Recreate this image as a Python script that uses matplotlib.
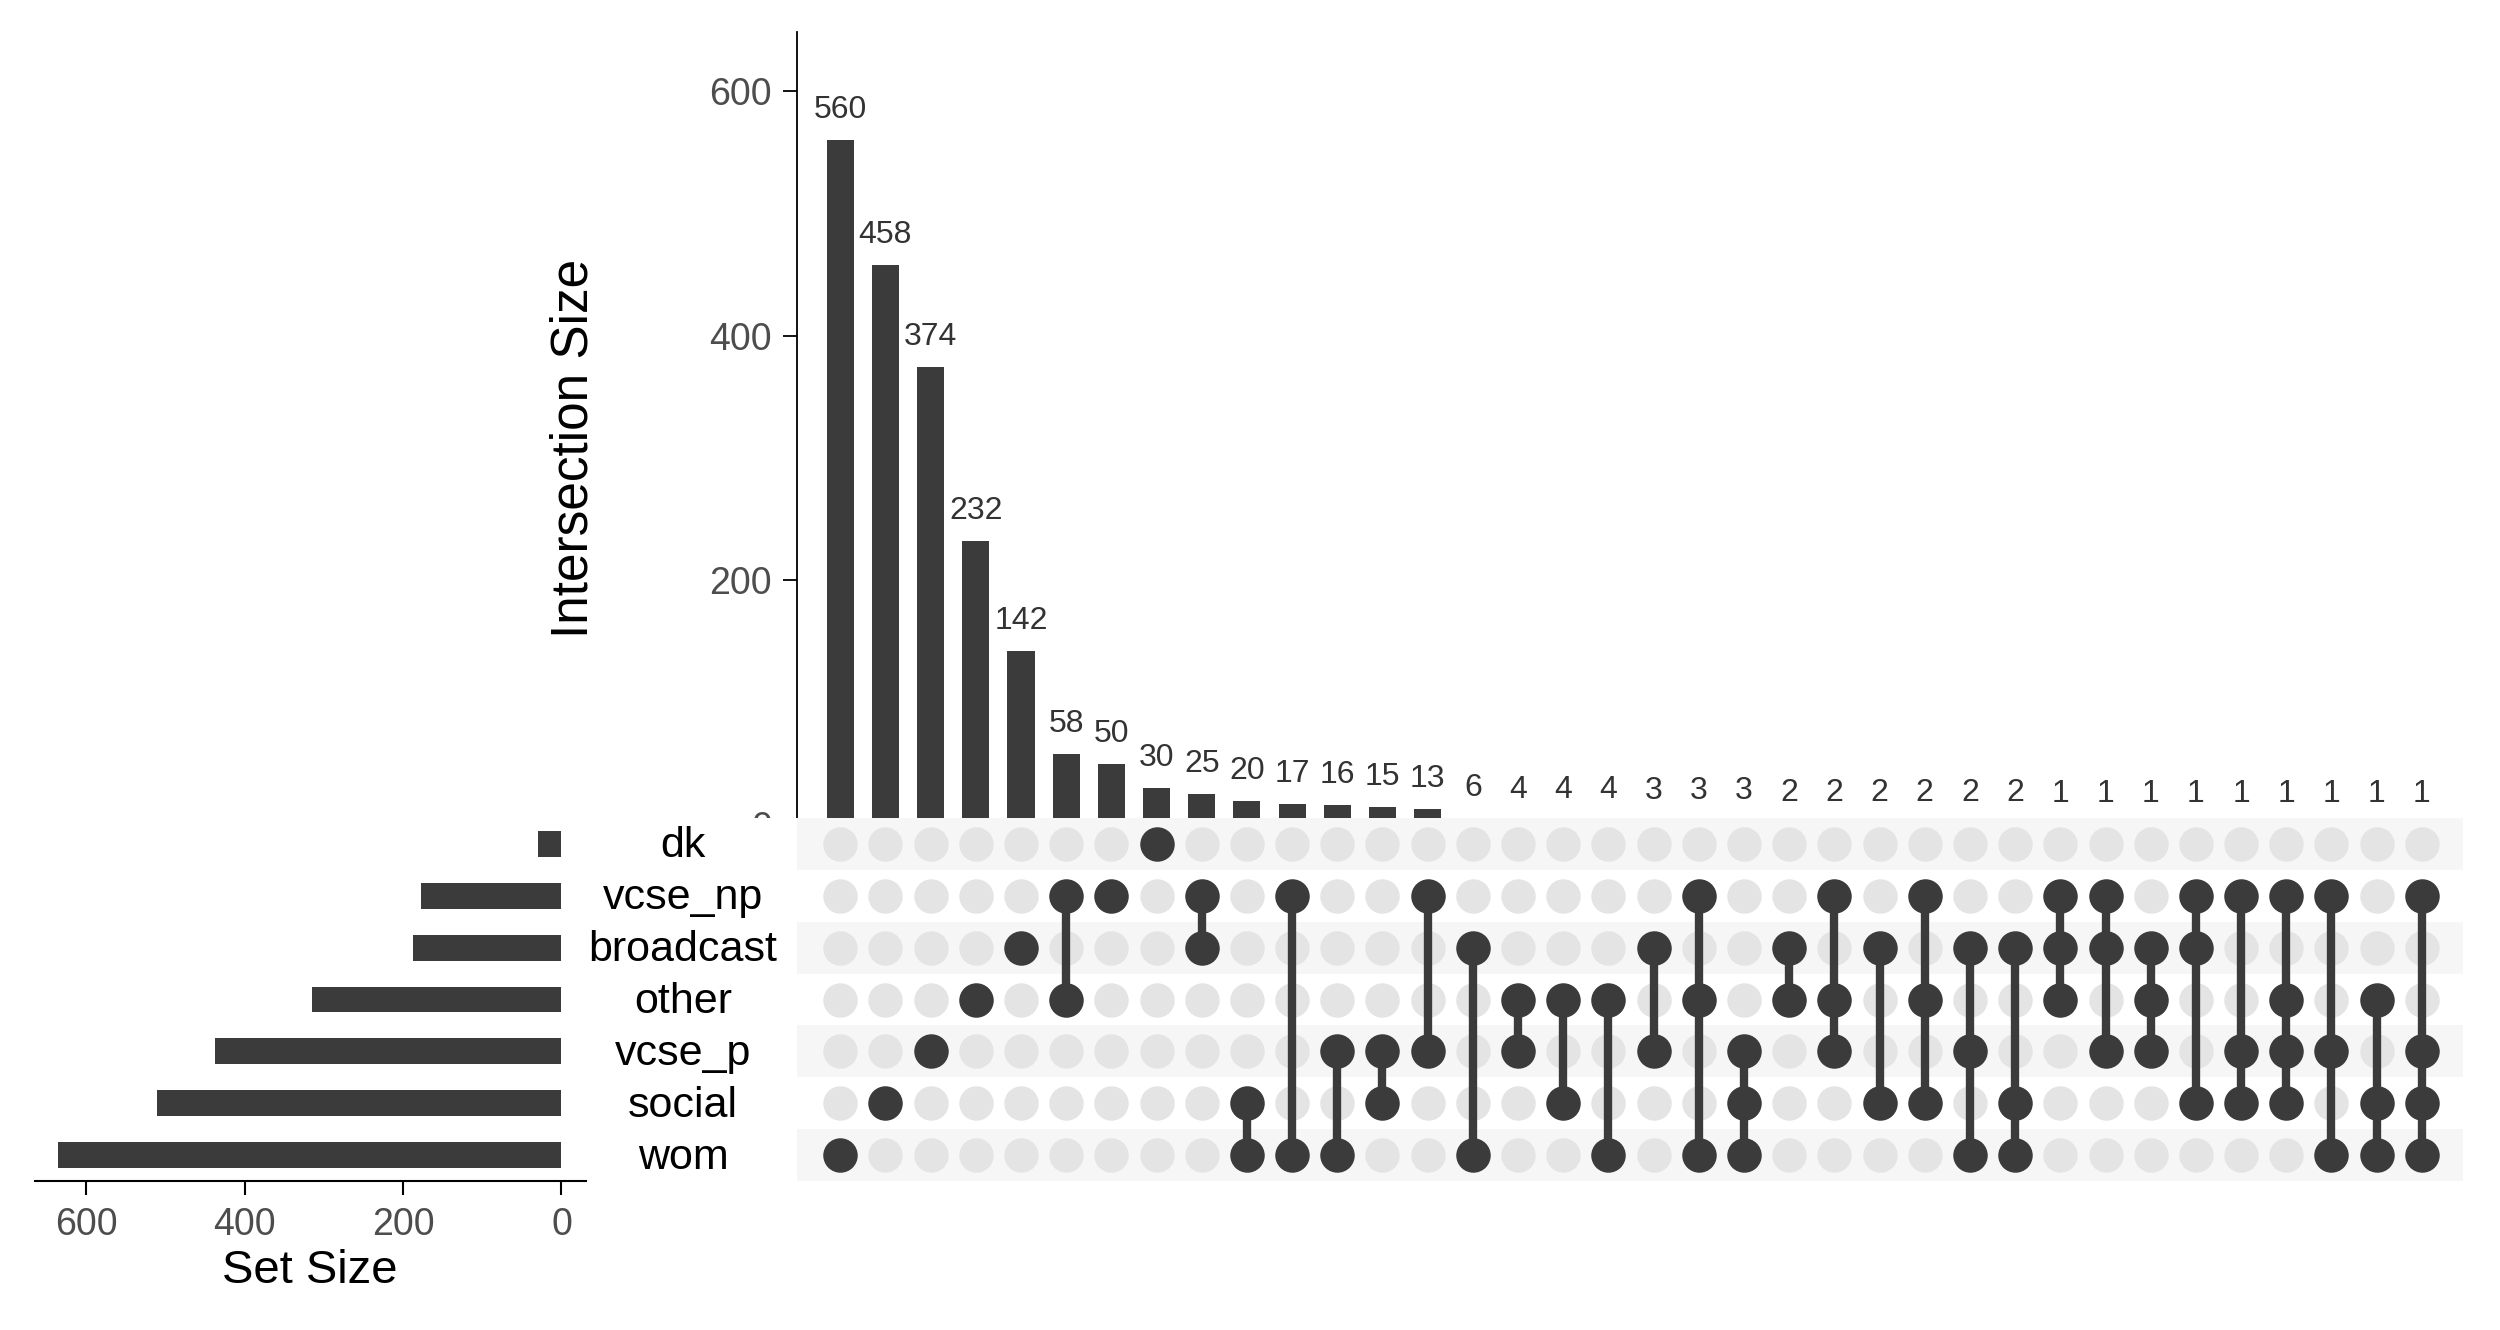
import matplotlib
matplotlib.use('Agg')
import matplotlib.pyplot as plt
import numpy as np

plt.rcParams['font.family'] = ['Liberation Sans', 'DejaVu Sans']

# ---------------- data ----------------
sets = ['dk', 'vcse_np', 'broadcast', 'other', 'vcse_p', 'social', 'wom']  # top -> bottom
counts = [560, 458, 374, 232, 142, 58, 50, 30, 25, 20, 17, 16, 15, 13, 6,
          4, 4, 4, 3, 3, 3, 2, 2, 2, 2, 2, 2, 1, 1, 1, 1, 1, 1, 1, 1, 1]
members = [
    ['wom'], ['social'], ['vcse_p'], ['other'], ['broadcast'],
    ['vcse_np', 'other'], ['vcse_np'], ['dk'], ['vcse_np', 'broadcast'],
    ['social', 'wom'], ['vcse_np', 'wom'], ['vcse_p', 'wom'], ['vcse_p', 'social'],
    ['vcse_np', 'vcse_p'], ['broadcast', 'wom'], ['other', 'vcse_p'],
    ['other', 'social'], ['other', 'wom'], ['broadcast', 'vcse_p'],
    ['vcse_np', 'other', 'wom'], ['vcse_p', 'social', 'wom'], ['broadcast', 'other'],
    ['vcse_np', 'other', 'vcse_p'], ['broadcast', 'social'],
    ['vcse_np', 'other', 'social'], ['broadcast', 'vcse_p', 'wom'],
    ['broadcast', 'social', 'wom'], ['vcse_np', 'broadcast', 'other'],
    ['vcse_np', 'broadcast', 'vcse_p'], ['broadcast', 'other', 'vcse_p'],
    ['vcse_np', 'broadcast', 'social'], ['vcse_np', 'vcse_p', 'social'],
    ['vcse_np', 'other', 'vcse_p', 'social'], ['vcse_np', 'vcse_p', 'wom'],
    ['other', 'social', 'wom'], ['vcse_np', 'vcse_p', 'social', 'wom'],
]
set_sizes = [sum(c for c, m in zip(counts, members) if s in m) for s in sets]
bar_ticks = [0, 200, 400, 600]
set_ticks = [0, 200, 400, 600]

# ---------------- style ----------------
DARK = '#3b3b3b'
LIGHT = '#e4e4e4'
BAND = '#f6f6f6'
TICKC = '#4d4d4d'

W, H = 2500, 1330
fig = plt.figure(figsize=(W / 100, H / 100), dpi=100)


def rect(x0, y0, x1, y1):
    return [x0 / W, 1 - y1 / H, (x1 - x0) / W, (y1 - y0) / H]


n = len(counts)
xs = np.arange(n)
col0_px, step_px = 840.2, 45.19
xl = ((797 - col0_px) / step_px, (n - 1) + (2463 - (col0_px + (n - 1) * step_px)) / step_px)

# ---- intersection size bars ----
ax_bar = fig.add_axes(rect(797, 32, 2463, 830))
ax_bar.set_zorder(1)
ax_bar.bar(xs, counts, width=0.6, color=DARK)
pxu = 1.2235
ax_bar.set_ylim(-5 / pxu, (825 - 32) / pxu)
ax_bar.set_xlim(*xl)
for s in ['top', 'right', 'bottom']:
    ax_bar.spines[s].set_visible(False)
ax_bar.spines['left'].set_linewidth(1.3)
ax_bar.set_xticks([])
ax_bar.set_yticks(bar_ticks)
ax_bar.tick_params(axis='y', length=10, width=1.3, pad=8, labelsize=27, labelcolor=TICKC)
for x, c in zip(xs, counts):
    ax_bar.annotate(str(c), (x, c), xytext=(0, 30), textcoords='offset pixels',
                    ha='center', va='center', fontsize=23, color='#333333')
fig.text(574 / W, 1 - 448 / H, 'Intersection Size', rotation=90, ha='center', va='center',
         fontsize=37, color='black')

# white panel behind the set names (covers the lower part of the "0" tick label)
ax_cover = fig.add_axes(rect(600, 818, 797, 1181))
ax_cover.set_zorder(2)
ax_cover.set_facecolor('white')
ax_cover.set_xticks([])
ax_cover.set_yticks([])
for spine in ax_cover.spines.values():
    spine.set_visible(False)

# ---- matrix ----
ax_mat = fig.add_axes(rect(797, 818, 2463, 1181))
ax_mat.set_zorder(3)
ax_mat.set_facecolor('white')
nr = len(sets)
ax_mat.set_xlim(*xl)
ax_mat.set_ylim(-0.5, nr - 0.5)
for i, s in enumerate(sets):
    y = nr - 1 - i
    if i % 2 == 0:
        ax_mat.axhspan(y - 0.5, y + 0.5, color=BAND, zorder=0, lw=0)
    ax_mat.scatter(xs, [y] * n, s=615, color=LIGHT, zorder=1, lw=0)
for x, m in zip(xs, members):
    ys = [nr - 1 - sets.index(s) for s in m]
    if len(ys) > 1:
        ax_mat.plot([x, x], [min(ys), max(ys)], color=DARK, lw=6, zorder=2,
                    solid_capstyle='butt')
    ax_mat.scatter([x] * len(ys), ys, s=615, color=DARK, zorder=3, lw=0)
ax_mat.set_xticks([])
ax_mat.set_yticks([])
for spine in ax_mat.spines.values():
    spine.set_visible(False)

# ---- set size bars ----
ax_set = fig.add_axes(rect(35, 818, 586, 1181))
ys = [nr - 1 - i for i in range(nr)]
ax_set.barh(ys, set_sizes, height=0.5, color=DARK)
ax_set.set_ylim(-0.5, nr - 0.5)
ax_set.set_xlim(665, -31)
for s in ['top', 'right', 'left']:
    ax_set.spines[s].set_visible(False)
ax_set.spines['bottom'].set_linewidth(1.5)
ax_set.set_yticks([])
ax_set.set_xticks(set_ticks)
ax_set.tick_params(axis='x', length=10, width=1.5, pad=9, labelsize=27, labelcolor=TICKC)
fig.text(310 / W, 1 - 1271 / H, 'Set Size', ha='center', va='center', fontsize=34)

# set labels
for i, s in enumerate(sets):
    yc = 846 + i * 52
    t = fig.text(683 / W, 1 - yc / H, s, ha='center', va='center', fontsize=31, color='black')
    t.set_zorder(5)

fig.savefig('out.png', dpi=100, facecolor='white')
